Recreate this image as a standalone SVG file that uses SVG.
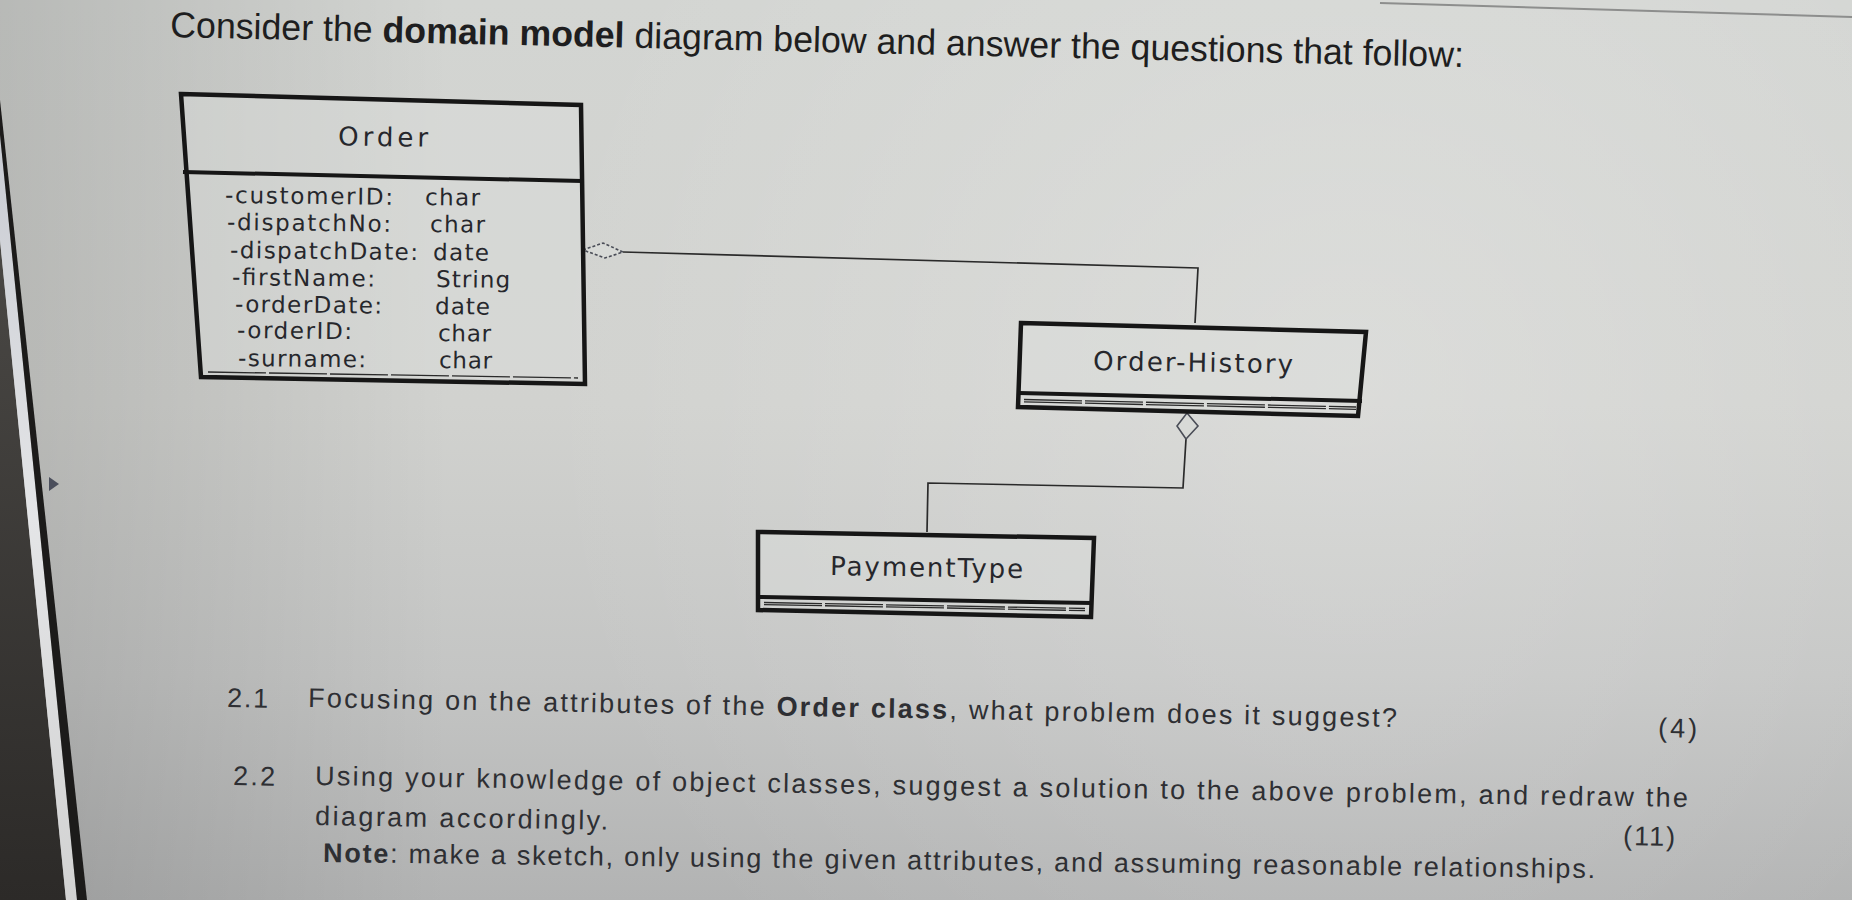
<svg xmlns="http://www.w3.org/2000/svg" width="1852" height="900" viewBox="0 0 1852 900">
<defs>
  <linearGradient id="paper" x1="0" y1="0" x2="0" y2="1">
    <stop offset="0" stop-color="#d3d5d2"/>
    <stop offset="0.45" stop-color="#d1d2cf"/>
    <stop offset="0.75" stop-color="#c4c5c4"/>
    <stop offset="1" stop-color="#b2b3b3"/>
  </linearGradient>
  <radialGradient id="glow" cx="1350" cy="380" r="820" gradientUnits="userSpaceOnUse">
    <stop offset="0" stop-color="#ffffff" stop-opacity="0.22"/>
    <stop offset="1" stop-color="#ffffff" stop-opacity="0"/>
  </radialGradient>
  <linearGradient id="leftShade" x1="0" y1="0" x2="450" y2="0" gradientUnits="userSpaceOnUse">
    <stop offset="0" stop-color="#000000" stop-opacity="0.13"/>
    <stop offset="1" stop-color="#000000" stop-opacity="0"/>
  </linearGradient>
  <linearGradient id="dark" x1="0" y1="0" x2="0" y2="1">
    <stop offset="0" stop-color="#4a4845"/>
    <stop offset="1" stop-color="#2c2a28"/>
  </linearGradient>
  <linearGradient id="strip" x1="0" y1="0" x2="0" y2="1">
    <stop offset="0" stop-color="#c9ccd3"/>
    <stop offset="0.5" stop-color="#e4e5e7"/>
    <stop offset="1" stop-color="#d2d2d2"/>
  </linearGradient>
</defs>
<style>
  .cls { fill: #dcdedb; fill-opacity: 0.45; stroke: #161616; stroke-width: 4.5; stroke-linejoin: miter; }
  .div { stroke: #161616; stroke-width: 4; fill: none; }
  .thin { stroke: #2a2a2a; stroke-width: 1.3; fill: none; stroke-dasharray: 58 3; }
  .name { font-family: "DejaVu Sans", "Open Sans", sans-serif; font-size: 26px; fill: #26272c; }
  .attr { font-family: "DejaVu Sans", "Open Sans", sans-serif; font-size: 23px; fill: #26272c; }
  .conn { stroke: #2a2a2a; stroke-width: 1.7; fill: none; }
  .dia { fill: #d8dad7; stroke: #4a4d57; stroke-width: 1.6; }
  .dash { stroke-dasharray: 3 2; }
  .q { font-family: "Liberation Sans", Arial, sans-serif; font-size: 27px; fill: #2e2f33; }
  .title { font-family: "Liberation Sans", Arial, sans-serif; font-size: 36px; fill: #1e1e20; }
  .b { font-weight: bold; }
</style>

<!-- background paper -->
<rect x="0" y="0" width="1852" height="900" fill="url(#paper)"/>
<rect x="0" y="0" width="1852" height="900" fill="url(#glow)"/>
<rect x="0" y="0" width="450" height="900" fill="url(#leftShade)"/>
<path d="M1380,3 L1852,17" stroke="#8d8e8d" stroke-width="2" fill="none"/>

<!-- left edge of page / desk -->
<polygon points="0,240 66,900 0,900" fill="url(#dark)"/>
<polygon points="0,135 77,900 66,900 0,240" fill="url(#strip)"/>
<polygon points="0,100 87,900 77,900 0,135" fill="#1c1b1a"/>
<polygon points="49,477 59,484 49,491" fill="#4b4f5c"/>

<!-- heading -->
<text class="title" x="170" y="37" transform="rotate(1.33 170 37)" textLength="1294" lengthAdjust="spacingAndGlyphs">Consider the <tspan class="b">domain model</tspan> diagram below and answer the questions that follow:</text>

<!-- connectors -->
<g id="connectors">
  <polyline class="conn" points="623,252 1198,268 1195,323"/>
  <polygon class="dia dash" points="583,250 603,243 623,252 605,258"/>
  <polyline class="conn" points="1186,439 1183,488 928,483 927,532"/>
  <polygon class="dia" points="1187,413 1198,426 1186,439 1177,426"/>
</g>

<!-- Order class -->
<g id="node-order">
  <polygon class="cls" points="181,94 581,105 585,384 201,377"/>
  <line class="div" x1="183" y1="172" x2="582" y2="181"/>
  <line class="thin" x1="208" y1="372" x2="578" y2="378"/>
  <text class="name" x="383" y="146" text-anchor="middle" transform="rotate(1 383 146)" textLength="90" lengthAdjust="spacing">Order</text>
  <text class="attr" x="225" y="203" transform="rotate(0.6 225 203)" textLength="168" lengthAdjust="spacing">-customerID:</text>
  <text class="attr" x="227" y="230" transform="rotate(0.6 227 230)" textLength="164" lengthAdjust="spacing">-dispatchNo:</text>
  <text class="attr" x="230" y="258" transform="rotate(0.6 230 258)" textLength="188" lengthAdjust="spacing">-dispatchDate:</text>
  <text class="attr" x="232" y="285" transform="rotate(0.6 232 285)" textLength="143" lengthAdjust="spacing">-firstName:</text>
  <text class="attr" x="235" y="312" transform="rotate(0.6 235 312)" textLength="147" lengthAdjust="spacing">-orderDate:</text>
  <text class="attr" x="237" y="338" transform="rotate(0.6 237 338)" textLength="115" lengthAdjust="spacing">-orderID:</text>
  <text class="attr" x="238" y="366" transform="rotate(0.6 238 366)" textLength="128" lengthAdjust="spacing">-surname:</text>
  <text class="attr" x="425" y="205" transform="rotate(0.6 425 205)" textLength="55" lengthAdjust="spacing">char</text>
  <text class="attr" x="430" y="232" transform="rotate(0.6 430 232)" textLength="55" lengthAdjust="spacing">char</text>
  <text class="attr" x="433" y="260" transform="rotate(0.6 433 260)" textLength="56" lengthAdjust="spacing">date</text>
  <text class="attr" x="436" y="287" transform="rotate(0.6 436 287)" textLength="74" lengthAdjust="spacing">String</text>
  <text class="attr" x="435" y="314" transform="rotate(0.6 435 314)" textLength="55" lengthAdjust="spacing">date</text>
  <text class="attr" x="438" y="341" transform="rotate(0.6 438 341)" textLength="53" lengthAdjust="spacing">char</text>
  <text class="attr" x="439" y="368" transform="rotate(0.6 439 368)" textLength="53" lengthAdjust="spacing">char</text>
</g>

<!-- Order-History class -->
<g id="node-order-history">
  <polygon class="cls" points="1021,323 1366,332 1358,416 1018,407"/>
  <line class="div" x1="1019" y1="393" x2="1362" y2="401"/>
  <line class="thin" x1="1024" y1="399.5" x2="1356" y2="407"/>
  <line class="thin" x1="1024" y1="401.8" x2="1356" y2="409.3"/>
  <text class="name" x="1093" y="370" transform="rotate(0.9 1093 370)" textLength="200" lengthAdjust="spacing">Order-History</text>
</g>

<!-- PaymentType class -->
<g id="node-payment-type">
  <polygon class="cls" points="758,532 1094,538 1091,617 758,610"/>
  <line class="div" x1="758" y1="597" x2="1092" y2="603"/>
  <line class="thin" x1="764" y1="602.5" x2="1085" y2="608.5"/>
  <line class="thin" x1="764" y1="604.6" x2="1085" y2="610.6"/>
  <text class="name" x="830" y="575" transform="rotate(0.9 830 575)" textLength="193" lengthAdjust="spacing">PaymentType</text>
</g>

<!-- questions -->
<text class="q" x="227" y="707" transform="rotate(1 227 707)" textLength="41" lengthAdjust="spacing">2.1</text>
<text class="q" x="308" y="707" transform="rotate(1.05 308 707)" textLength="1089" lengthAdjust="spacing">Focusing on the attributes of the <tspan class="b">Order class</tspan>, what problem does it suggest?</text>
<text class="q" x="1658" y="737" transform="rotate(1 1658 737)" textLength="39" lengthAdjust="spacing">(4)</text>
<text class="q" x="233" y="785" transform="rotate(0.92 233 785)" textLength="42" lengthAdjust="spacing">2.2</text>
<text class="q" x="315" y="785" transform="rotate(0.92 315 785)" textLength="1373" lengthAdjust="spacing">Using your knowledge of object classes, suggest a solution to the above problem, and redraw the</text>
<text class="q" x="315" y="825" transform="rotate(0.9 315 825)" textLength="293" lengthAdjust="spacing">diagram accordingly.</text>
<text class="q" x="1623" y="845" transform="rotate(0.9 1623 845)" textLength="52" lengthAdjust="spacing">(11)</text>
<text class="q" x="323" y="862" transform="rotate(0.72 323 862)" textLength="1272" lengthAdjust="spacing"><tspan class="b">Note</tspan>: make a sketch, only using the given attributes, and assuming reasonable relationships.</text>
</svg>
